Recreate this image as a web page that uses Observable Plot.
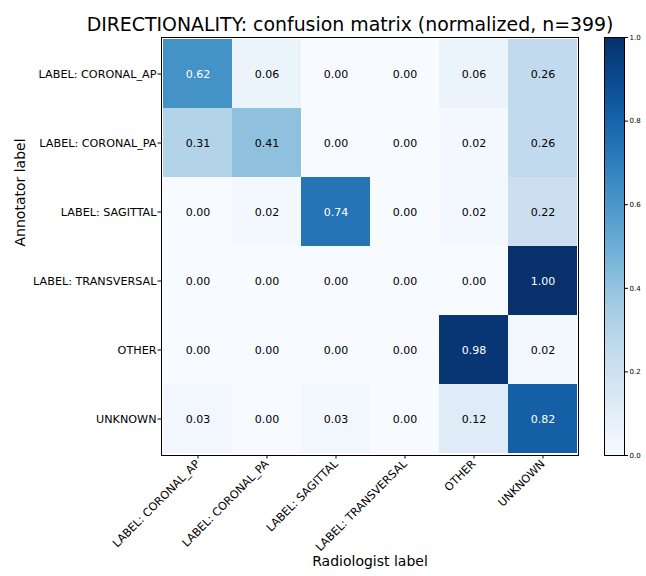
<!DOCTYPE html>
<html>
<head>
<meta charset="utf-8">
<script src="https://cdn.jsdelivr.net/npm/d3@7"></script>
<script src="https://cdn.jsdelivr.net/npm/@observablehq/plot@0.6"></script>
<style>
  html, body { margin: 0; padding: 0; background: #fff; }
  #chart { position: relative; width: 646px; height: 576px; font-family: "DejaVu Sans", sans-serif; }
  #chart svg { position: absolute; top: 0; overflow: visible; }
</style>
</head>
<body>
<div id="chart"></div>
<script>
// Confusion matrix: rows are annotator labels, columns radiologist labels.
const title = "DIRECTIONALITY: confusion matrix (normalized, n=399)";
const annotatorLabels = ["LABEL: CORONAL_AP", "LABEL: CORONAL_PA", "LABEL: SAGITTAL", "LABEL: TRANSVERSAL", "OTHER", "UNKNOWN"];
const radiologistLabels = ["LABEL: CORONAL_AP", "LABEL: CORONAL_PA", "LABEL: SAGITTAL", "LABEL: TRANSVERSAL", "OTHER", "UNKNOWN"];
const rowCoronalAP  = [0.62, 0.06, 0.00, 0.00, 0.06, 0.26];
const rowCoronalPA  = [0.31, 0.41, 0.00, 0.00, 0.02, 0.26];
const rowSagittal   = [0.00, 0.02, 0.74, 0.00, 0.02, 0.22];
const rowTransversal= [0.00, 0.00, 0.00, 0.00, 0.00, 1.00];
const rowOther      = [0.00, 0.00, 0.00, 0.00, 0.98, 0.02];
const rowUnknown    = [0.03, 0.00, 0.03, 0.00, 0.12, 0.82];
const colorbarTicks = [0, 0.2, 0.4, 0.6, 0.8, 1.0];

const rows = [rowCoronalAP, rowCoronalPA, rowSagittal, rowTransversal, rowOther, rowUnknown];
const cells = rows.flatMap((r, i) => r.map((v, j) => ({
  annotator: annotatorLabels[i],
  radiologist: radiologistLabels[j],
  value: v
})));

const font = "DejaVu Sans, sans-serif";
const colorScale = {type: "linear", scheme: "blues", domain: [0, 1]};

const main = Plot.plot({
  width: 646,
  height: 576,
  marginLeft: 161,
  marginRight: 68,
  marginTop: 37,
  marginBottom: 121,
  style: {fontFamily: font, background: "white", overflow: "visible"},
  x: {domain: radiologistLabels, padding: 0, axis: null},
  y: {domain: annotatorLabels, padding: 0, axis: null},
  color: colorScale,
  marks: [
    Plot.cell(cells, {x: "radiologist", y: "annotator", fill: "value", inset: 0}),
    Plot.text(cells, {
      x: "radiologist", y: "annotator",
      text: d => d3.format(".2f")(d.value),
      fill: d => d.value > 0.5 ? "white" : "black",
      fontSize: 11
    }),
    Plot.frame({stroke: "black", strokeWidth: 1}),
    Plot.axisX({anchor: "bottom", tickRotate: -45, fontSize: 11.2, tickSize: 3.5, tickPadding: 3, label: null, stroke: "black", color: "black"}),
    Plot.axisY({anchor: "left", fontSize: 11.2, tickSize: 3.5, tickPadding: 1.5, label: null, color: "black"}),
    Plot.text([title], {frameAnchor: "top", dx: -20, dy: -20, fontSize: 18.9, fill: "black"}),
    Plot.text(["Radiologist label"], {frameAnchor: "bottom", dy: 110, fontSize: 14, fill: "black"}),
    Plot.text(["Annotator label"], {frameAnchor: "left", dx: -141, rotate: -90, fontSize: 14, fill: "black"})
  ]
});
main.style.left = "0px";

const colorbar = Plot.plot({
  width: 41,
  height: 576,
  marginLeft: 0,
  marginRight: 21,
  marginTop: 37,
  marginBottom: 121,
  style: {fontFamily: font, background: "transparent", overflow: "visible"},
  x: {domain: [0, 1], axis: null},
  y: {domain: [0, 1], axis: null},
  color: colorScale,
  marks: [
    Plot.raster({x1: 0, x2: 1, y1: 0, y2: 1, width: 1, height: 256, fill: (x, y) => y}),
    Plot.frame({stroke: "black", strokeWidth: 1}),
    Plot.axisY({anchor: "right", ticks: colorbarTicks, tickFormat: d3.format(".1f"), fontSize: 7, tickSize: 3, tickPadding: 2, label: null, color: "black"})
  ]
});
colorbar.style.left = "604px";

const chart = document.getElementById("chart");
chart.append(main, colorbar);
</script>
</body>
</html>
